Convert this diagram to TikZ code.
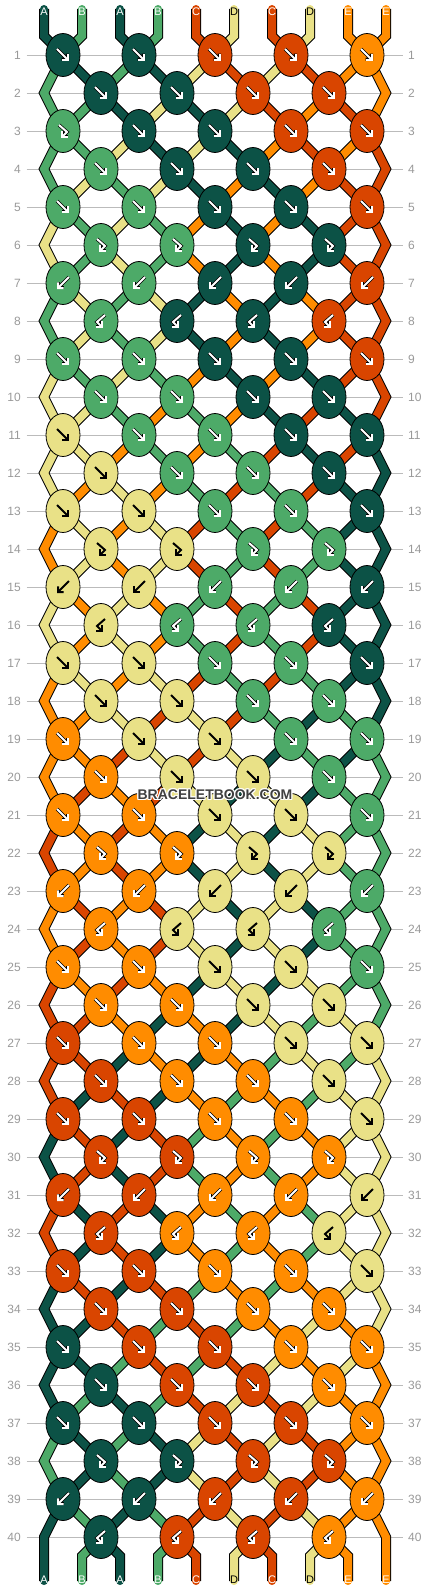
\documentclass[tikz,border=0pt]{standalone}
\usepackage{fontspec}
\setmainfont{Liberation Sans}
\usetikzlibrary{arrows.meta}
\usetikzlibrary{shapes.geometric}
\usetikzlibrary{backgrounds}

\definecolor{col1}{HTML}{0C5246}
\definecolor{col2}{HTML}{4DAA68}
\definecolor{col3}{HTML}{D94500}
\definecolor{col4}{HTML}{E9E187}
\definecolor{col5}{HTML}{FF8C00}
\colorlet{ink1}{white}
\colorlet{ink2}{white}
\colorlet{ink3}{white}
\colorlet{ink4}{black}
\colorlet{ink5}{white}
\colorlet{rim1}{black}
\colorlet{rim2}{black}
\colorlet{rim3}{black}
\colorlet{rim4}{col4}
\colorlet{rim5}{black}
\definecolor{rowgray}{HTML}{999999}
\definecolor{linegray}{HTML}{BBBBBB}
\definecolor{wmgray}{HTML}{404040}

\pgfkeys{/knotside/.cd, f/.initial=0, b/.initial=1, fb/.initial=0, bf/.initial=1}

\newcommand{\strletter}[1]{\ifcase#1\or A\or B\or C\or D\or E\fi}
\newcommand{\symdraw}[1]{\draw[symback] #1; \draw[symfront] #1;}

\newcommand{\initstate}{1,2,1,2,3,4,3,4,5,5}
\newcommand{\knotrows}{%
1/{f,f,f,f,f}/{2,1,2,1,4,3,4,3,5,5},
2/{f,f,f,f}/{2,2,1,4,1,4,3,5,3,5},
3/{fb,f,f,f,f}/{2,2,4,1,4,1,5,3,5,3},
4/{f,f,f,f}/{2,4,2,4,1,5,1,5,3,3},
5/{f,f,f,f,f}/{4,2,4,2,5,1,5,1,3,3},
6/{fb,fb,fb,fb}/{4,2,4,2,5,1,5,1,3,3},
7/{b,b,b,b,b}/{2,4,2,4,1,5,1,5,3,3},
8/{bf,bf,bf,bf}/{2,4,2,4,1,5,1,5,3,3},
9/{f,f,f,f,f}/{4,2,4,2,5,1,5,1,3,3},
10/{f,f,f,f}/{4,4,2,5,2,5,1,3,1,3},
11/{f,f,f,f,f}/{4,4,5,2,5,2,3,1,3,1},
12/{f,f,f,f}/{4,5,4,5,2,3,2,3,1,1},
13/{f,f,f,f,f}/{5,4,5,4,3,2,3,2,1,1},
14/{fb,fb,fb,fb}/{5,4,5,4,3,2,3,2,1,1},
15/{b,b,b,b,b}/{4,5,4,5,2,3,2,3,1,1},
16/{bf,bf,bf,bf}/{4,5,4,5,2,3,2,3,1,1},
17/{f,f,f,f,f}/{5,4,5,4,3,2,3,2,1,1},
18/{f,f,f,f}/{5,5,4,3,4,3,2,1,2,1},
19/{f,f,f,f,f}/{5,5,3,4,3,4,1,2,1,2},
20/{f,f,f,f}/{5,3,5,3,4,1,4,1,2,2},
21/{f,f,f,f,f}/{3,5,3,5,1,4,1,4,2,2},
22/{fb,fb,fb,fb}/{3,5,3,5,1,4,1,4,2,2},
23/{b,b,b,b,b}/{5,3,5,3,4,1,4,1,2,2},
24/{bf,bf,bf,bf}/{5,3,5,3,4,1,4,1,2,2},
25/{f,f,f,f,f}/{3,5,3,5,1,4,1,4,2,2},
26/{f,f,f,f}/{3,3,5,1,5,1,4,2,4,2},
27/{f,f,f,f,f}/{3,3,1,5,1,5,2,4,2,4},
28/{f,f,f,f}/{3,1,3,1,5,2,5,2,4,4},
29/{f,f,f,f,f}/{1,3,1,3,2,5,2,5,4,4},
30/{fb,fb,fb,fb}/{1,3,1,3,2,5,2,5,4,4},
31/{b,b,b,b,b}/{3,1,3,1,5,2,5,2,4,4},
32/{bf,bf,bf,bf}/{3,1,3,1,5,2,5,2,4,4},
33/{f,f,f,f,f}/{1,3,1,3,2,5,2,5,4,4},
34/{f,f,f,f}/{1,1,3,2,3,2,5,4,5,4},
35/{f,f,f,f,f}/{1,1,2,3,2,3,4,5,4,5},
36/{f,f,f,f}/{1,2,1,2,3,4,3,4,5,5},
37/{f,f,f,f,f}/{2,1,2,1,4,3,4,3,5,5},
38/{fb,fb,fb,fb}/{2,1,2,1,4,3,4,3,5,5},
39/{b,b,b,b,b}/{1,2,1,2,3,4,3,4,5,5},
40/{bf,bf,bf,bf}/{1,2,1,2,3,4,3,4,5,5}}

\tikzset{
  knot/.style={ellipse, draw=black, line width=0.8pt, minimum width=34pt, minimum height=43pt, inner sep=0pt},
  strand/.style={draw=#1, line width=8pt, preaction={draw=black, line width=10pt}},
  symback/.style={->, draw=rim\kc, line width=3.4pt},
  symfront/.style={->, draw=ink\kc, line width=2pt},
  rownum/.style={text=rowgray, font=\fontsize{12}{12}\selectfont, inner xsep=5.5pt, inner ysep=0pt},
  rowline/.style={draw=linegray, line width=0.8pt},
  strlbl/.style={font=\fontsize{11}{11}\selectfont, inner sep=0pt},
  wmark/.style={font=\bfseries\fontsize{14}{14}\selectfont, inner sep=0pt},
  pics/sym f/.style={code={\symdraw{(-6,-6) -- (6,6)}}},
  pics/sym b/.style={code={\symdraw{(6,-6) -- (-6,6)}}},
  pics/sym fb/.style={code={\symdraw{(-4,-6) -- (4,1) -- (-2,7)}}},
  pics/sym bf/.style={code={\symdraw{(4,-6) -- (-4,1) -- (2,7)}}}
}

\begin{document}
\begin{tikzpicture}[x=1pt, y=-1pt, >={Straight Barb[length=4pt,width=8pt]}]
  \useasboundingbox (0,0) rectangle (430,1592);
  \def\prev{\initstate}
  \foreach \r/\kt/\st in \knotrows {
    \pgfmathsetmacro\y{17+38*\r}
    \pgfmathtruncatemacro\odd{mod(\r,2)}
    \node[rownum, anchor=east] (ln\r) at (26.5,\y) {\r};
    \node[rownum, anchor=west] (rn\r) at (402.5,\y) {\r};
    \begin{pgfonlayer}{background}
      \draw[rowline] (ln\r) -- (rn\r);
    \end{pgfonlayer}
    \foreach \t [count=\j from 0] in \kt {
      \pgfmathsetmacro\x{\odd==1 ? 63+76*\j : 101+76*\j}
      \pgfmathtruncatemacro\pl{(\odd==1 ? 2*\j : 2*\j+1) + \pgfkeysvalueof{/knotside/\t}}
      \pgfmathtruncatemacro\kc{{\prev}[\pl]}
      \node[knot, fill=col\kc] (k\r-\j) at (\x,\y) {};
      \pic at (k\r-\j) {sym \t};
    }
    \ifnum\r>1
      \pgfmathtruncatemacro\rp{\r-1}
      \begin{pgfonlayer}{background}
        \foreach \i in {1,...,8} {
          \pgfmathtruncatemacro\ja{\odd==1 ? floor((\i-1)/2) : floor(\i/2)}
          \pgfmathtruncatemacro\jb{\odd==1 ? floor(\i/2) : floor((\i-1)/2)}
          \pgfmathtruncatemacro\kc{{\prev}[\i]}
          \draw[strand=col\kc] (k\rp-\ja.center) -- (k\r-\jb.center);
        }
      \end{pgfonlayer}
      \ifnum\odd=1
        \pgfmathtruncatemacro\rr{\r-2}
        \pgfmathsetmacro\ye{\y-38}
        \pgfmathtruncatemacro\kl{{\prev}[0]}
        \pgfmathtruncatemacro\kr{{\prev}[9]}
        \begin{pgfonlayer}{background}
          \draw[strand=col\kl] (k\rr-0.center) -- (44,\ye) -- (k\r-0.center);
          \draw[strand=col\kr] (k\rr-4.center) -- (386,\ye) -- (k\r-4.center);
        \end{pgfonlayer}
      \fi
    \fi
    \xdef\prev{\st}
  }
  \begin{pgfonlayer}{background}
    \foreach \kc [count=\i from 0] in \initstate {
      \pgfmathsetmacro\xs{44+38*\i}
      \pgfmathtruncatemacro\j{floor(\i/2)}
      \coordinate (top\i) at (\xs,9);
      \draw[strand=col\kc, line cap=round] (top\i) -- ++(0,27) -- (k1-\j.center);
    }
    \foreach \kc [count=\i from 0] in \prev {
      \pgfmathsetmacro\xs{44+38*\i}
      \coordinate (bot\i) at (\xs,1581);
      \ifnum\i=0
        \draw[strand=col\kc, line cap=round] (k39-0.center) -- (44,1537) -- (bot\i);
      \else\ifnum\i=9
        \draw[strand=col\kc, line cap=round] (k39-4.center) -- (386,1537) -- (bot\i);
      \else
        \pgfmathtruncatemacro\j{floor((\i-1)/2)}
        \draw[strand=col\kc, line cap=round] (k40-\j.center) -- (\xs,1556) -- (bot\i);
      \fi\fi
    }
  \end{pgfonlayer}
  \foreach \kc [count=\i from 0] in \initstate
    \node[strlbl, text=ink\kc] (ltop\i) at (44+38*\i,12) {\strletter{\kc}};
  \foreach \kc [count=\i from 0] in \prev
    \node[strlbl, text=ink\kc] (lbot\i) at (44+38*\i,1579.5) {\strletter{\kc}};
  \foreach \dx/\dy [count=\n] in {-1/0,1/0,0/-1,0/1,-1/-1,1/1,-1/1,1/-1}
    \node[wmark, text=white] (halo\n) at (215+\dx,795+\dy) {BRACELETBOOK.COM};
  \node[wmark, text=wmgray] (wm) at (215,795) {BRACELETBOOK.COM};
\end{tikzpicture}
\end{document}
